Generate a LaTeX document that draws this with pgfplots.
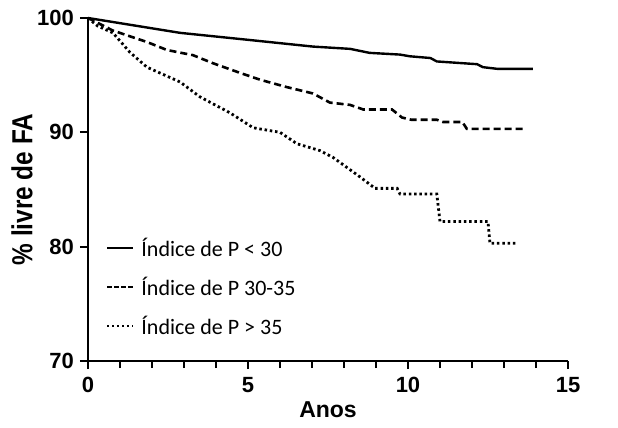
\documentclass[border=0pt]{standalone}
\usepackage{pgfplots}
\pgfplotsset{compat=1.18}
\usepackage{fontspec}
\setmainfont{Liberation Sans}
\newfontfamily\legfont{Carlito}
\newfontfamily\ylabfont{Liberation Sans}[FakeStretch=0.84]
\begin{document}
\begin{tikzpicture}
\path[use as bounding box] (-88pt,-67pt) rectangle (530pt,361pt);
\begin{axis}[
  at={(0pt,0pt)}, anchor=south west,
  scale only axis, width=480pt, height=343pt,
  xmin=0, xmax=15, ymin=70, ymax=100,
  axis lines*=left,
  axis line style={line width=2.6pt, -},
  xtick={0,5,10,15}, ytick={70,80,90,100},
  minor x tick num=4,
  tick align=outside,
  major tick length=8pt, minor tick length=7pt,
  every tick/.style={line width=2.2pt, black},
  /pgf/number format/assume math mode=true,
  ticklabel style={font=\fontsize{22}{24}\selectfont\bfseries, inner sep=0pt},
  xticklabel style={anchor=north, yshift=-8pt},
  yticklabel style={anchor=east, xshift=-6pt},
  xlabel={Anos}, ylabel={\% livre de FA},
  xlabel style={font=\fontsize{23}{26}\selectfont\bfseries, at={(axis description cs:0.5,0)}, anchor=north, inner sep=0pt, yshift=-40pt},
  ylabel style={font=\ylabfont\fontsize{29}{30}\selectfont\bfseries, at={(axis description cs:-0.1375,0.5)}, anchor=center, inner sep=0pt},
  legend style={draw=none, fill=none, at={(axis description cs:0.038,0.365)}, anchor=north west,
    font=\legfont\fontsize{22}{24}\selectfont, row sep=15pt, inner sep=0pt,
    /tikz/every odd column/.append style={column sep=5pt}},
  legend cell align=left,
  clip=false,
]
\addplot[black, line width=2.4pt, forget plot] coordinates {
(0,100) (2.88,98.7) (4.97,98.1) (7.03,97.5) (8.19,97.3) (8.8,96.95) (9.75,96.8) (10.06,96.65) (10.7,96.5) (10.9,96.2) (12.16,95.96) (12.34,95.7) (12.8,95.55) (13.9,95.55)
};
\addplot[black, line width=2.6pt, dash pattern=on 7pt off 4pt, forget plot] coordinates {
(0,100) (0.78,98.9) (1.84,97.9) (2.47,97.2) (3.28,96.75) (3.9,96.05) (4.75,95.2) (5.38,94.6) (6.22,93.95) (7.03,93.4) (7.56,92.6) (8.19,92.4) (8.6,92.0) (9.5,92.0) (9.81,91.3) (10.1,91.1) (10.9,91.1) (11.1,90.9) (11.7,90.9) (11.84,90.3) (13.7,90.3)
};
\addplot[black, line width=2.8pt, dash pattern=on 2.5pt off 2.8pt, forget plot] coordinates {
(0,100) (0.3,99.3) (0.78,98.7) (1.31,97.0) (1.84,95.7) (2.88,94.4) (3.5,93.1) (4.44,91.7) (5.16,90.4) (6.0,90.0) (6.53,89.0) (7.25,88.4) (7.66,87.8) (8.5,86.1) (8.97,85.1) (9.66,85.1) (9.75,84.6) (10.9,84.6) (11.0,82.2) (12.5,82.2) (12.56,80.3) (13.4,80.3)
};
\addlegendimage{legend image code/.code={\draw[black, line width=1.6pt] (0pt,0pt) -- (26pt,0pt);}}
\addlegendentry{Índice de P < 30}
\addlegendimage{legend image code/.code={\draw[black, line width=1.6pt, dash pattern=on 5pt off 2pt] (0pt,0pt) -- (26pt,0pt);}}
\addlegendentry{Índice de P 30-35}
\addlegendimage{legend image code/.code={\draw[black, line width=2pt, dash pattern=on 2pt off 3pt] (0pt,0pt) -- (26pt,0pt);}}
\addlegendentry{Índice de P > 35}
\end{axis}
\end{tikzpicture}
\end{document}
